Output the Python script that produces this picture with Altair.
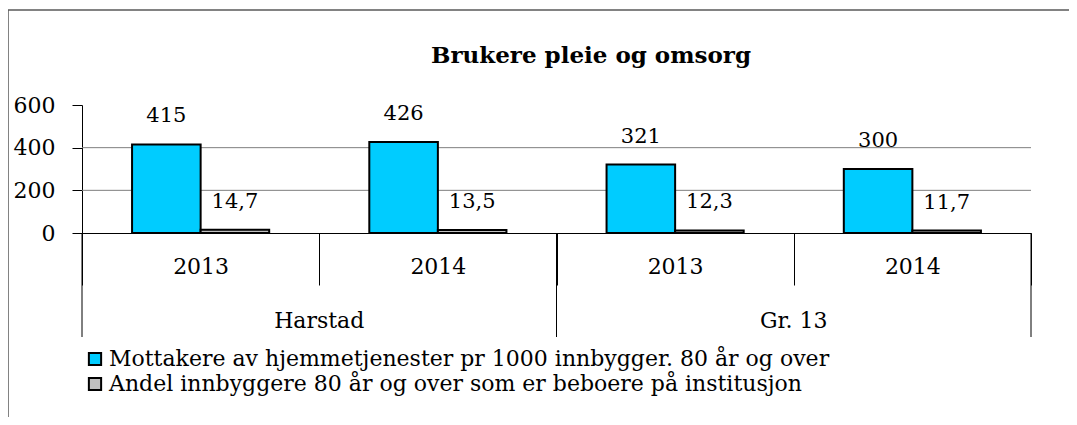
import altair as alt
import pandas as pd

# ---- data ----
groups = ["Harstad", "Harstad", "Gr. 13", "Gr. 13"]
years = ["2013", "2014", "2013", "2014"]
series_names = [
    "Mottakere av hjemmetjenester pr 1000 innbygger. 80 år og over",
    "Andel innbyggere 80 år og over som er beboere på institusjon",
]
hjemmetjenester = [415, 426, 321, 300]
institusjon = [14.7, 13.5, 12.3, 11.7]
y_ticks = [0, 200, 400, 600]
grid_values = [200, 400]
title_text = "Brukere pleie og omsorg"
colors = ["#00CCFF", "#C0C0C0"]

FONT = "DejaVu Serif"

cats = [f"{g}|{y}" for g, y in zip(groups, years)]
rows = []
for i, c in enumerate(cats):
    rows.append({"cat": c, "group": groups[i], "year": years[i],
                 "series": series_names[0], "value": hjemmetjenester[i]})
    rows.append({"cat": c, "group": groups[i], "year": years[i],
                 "series": series_names[1], "value": institusjon[i]})
df = pd.DataFrame(rows)

xscale = alt.Scale(domain=cats, paddingInner=0, paddingOuter=0)
xoff = alt.XOffset("series:N", sort=series_names,
                   scale=alt.Scale(domain=series_names, paddingOuter=0.73, paddingInner=0))
yscale = alt.Scale(domain=[0, 600])

x_axis = alt.Axis(
    title=None, labelExpr="split(datum.value, '|')[1]", labelAngle=0,
    tickBand="extent", tickSize=52, tickColor="black", domainColor="black",
    labelPadding=-29, labelFontSize=22, labelFont=FONT, labelColor="black",
    grid=False,
)
y_axis = alt.Axis(
    title=None, values=y_ticks, grid=False, tickSize=10, tickColor="black",
    domainColor="black", labelPadding=17, labelFontSize=22, labelFont=FONT,
    labelColor="black",
)

grid = alt.Chart(pd.DataFrame({"v": grid_values})).mark_rule(
    color="#7f7f7f", strokeWidth=1
).encode(y=alt.Y("v:Q", scale=yscale, axis=y_axis))

bars = alt.Chart(df).mark_bar(stroke="black", strokeWidth=2).encode(
    x=alt.X("cat:N", sort=cats, scale=xscale, axis=x_axis),
    xOffset=xoff,
    y=alt.Y("value:Q", scale=yscale, axis=y_axis),
    fill=alt.Fill(
        "series:N", sort=series_names,
        scale=alt.Scale(domain=series_names, range=colors),
        legend=alt.Legend(
            title=None, orient="none", legendX=2, legendY=243, direction="vertical",
            symbolType="square", symbolSize=150, symbolStrokeColor="black",
            symbolStrokeWidth=2, labelFont=FONT, labelFontSize=22, labelColor="black",
            rowPadding=3, labelOffset=3, padding=0, labelLimit=1000,
        ),
    ),
)

labels = alt.Chart(df).transform_calculate(
    label="replace(toString(datum.value), '.', ',')"
).mark_text(baseline="bottom", dy=-18, fontSize=21, font=FONT, color="black").encode(
    x=alt.X("cat:N", sort=cats, scale=xscale, axis=x_axis),
    xOffset=xoff,
    y=alt.Y("value:Q", scale=yscale, axis=y_axis),
    text="label:N",
)

# group separators (long ticks) and group labels
gdf = pd.DataFrame({"cat": [cats[0], cats[2]], "group": [groups[0], groups[2]]})
gsep_start = alt.Chart(gdf).mark_rule(color="black", strokeWidth=1).encode(
    x=alt.X("cat:N", sort=cats, scale=xscale, bandPosition=0, axis=x_axis),
    y=alt.value(128), y2=alt.value(232),
)
gsep_end = alt.Chart(pd.DataFrame({"cat": [cats[-1]]})).mark_rule(
    color="black", strokeWidth=1
).encode(
    x=alt.X("cat:N", sort=cats, scale=xscale, bandPosition=1, axis=x_axis),
    y=alt.value(128), y2=alt.value(232),
)
glabels = alt.Chart(gdf).mark_text(fontSize=22, font=FONT, color="black",
                                   baseline="middle").encode(
    x=alt.X("cat:N", sort=cats, scale=xscale, bandPosition=1, axis=x_axis),
    y=alt.value(216),
    text="group:N",
)

title = alt.Chart(pd.DataFrame({"t": [title_text]})).mark_text(
    fontSize=23, font=FONT, fontWeight="bold", color="black", baseline="alphabetic"
).encode(x=alt.value(509), y=alt.value(-42), text="t:N")

frame_left = alt.Chart(pd.DataFrame({"a": [0]})).mark_rule(
    color="#595959", strokeWidth=1.5
).encode(x=alt.value(-74), y=alt.value(-95), y2=alt.value(330))
frame_top = alt.Chart(pd.DataFrame({"a": [0]})).mark_rule(
    color="#595959", strokeWidth=1.5
).encode(x=alt.value(-74), x2=alt.value(1000), y=alt.value(-95))

chart = alt.layer(
    grid, bars, labels, gsep_start, gsep_end, glabels, title, frame_left, frame_top
).properties(
    width=949, height=128,
    padding={"left": 74, "top": 97, "right": 38, "bottom": 184},
    autosize=alt.AutoSizeParams(type="none"),
    background="white",
).configure_view(stroke="transparent", strokeWidth=0).configure_axis(grid=False)

chart.save("out.html", embed_options={"renderer": "svg", "actions": False})
